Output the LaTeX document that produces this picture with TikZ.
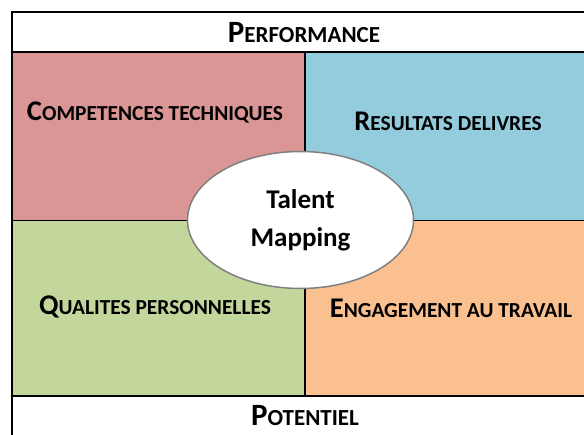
\documentclass[tikz,border=0pt]{standalone}
\usepackage{fontspec}
\setmainfont{Carlito}
\usetikzlibrary{shapes.geometric}
\definecolor{pinkq}{HTML}{D99694}
\definecolor{blueq}{HTML}{93CDDD}
\definecolor{greenq}{HTML}{C3D69B}
\definecolor{orangeq}{HTML}{FAC090}
\newcommand{\smc}[3]{#2{\fontsize{#1}{24}\selectfont #3}}

\begin{document}
\begin{tikzpicture}[x=1pt,y=-1pt]
\useasboundingbox (0,0) rectangle (584,435);
\clip (0,0) rectangle (584,435);

\tikzstyle{Label}=[font=\fontsize{28.5}{32}\selectfont\bfseries,inner sep=0pt]
\tikzstyle{Title}=[font=\fontsize{31}{34}\selectfont\bfseries,inner sep=0pt]

\fill[pinkq] (12,52) rectangle (305,221);
\fill[blueq] (305,52) rectangle (600,221);
\fill[greenq] (12,221) rectangle (305,396);
\fill[orangeq] (305,221) rectangle (600,396);

\draw[line width=2pt] (12,600) -- (12,12) -- (600,12);
\draw[line width=2pt] (12,52) -- (600,52);
\draw[line width=2pt] (12,396) -- (600,396);
\draw[line width=1pt] (12,221) -- (600,221);
\draw[line width=1.7pt] (305,52) -- (305,396);

\node[Title] (perf) at (304,33) {\smc{23}{P}{ERFORMANCE}};
\node[Title] (pot) at (305,416) {\smc{23}{P}{OTENTIEL}};

\node[Label] (comp) at (155,113) {\smc{21.4}{C}{OMPETENCES TECHNIQUES}};
\node[Label] (res) at (448,121) {\smc{21.4}{R}{ESULTATS DELIVRES}};
\node[Label] (qual) at (155,307) {\smc{21.4}{Q}{UALITES PERSONNELLES}};
\node[Label] (eng) at (451,308) {\smc{21.4}{E}{NGAGEMENT AU TRAVAIL}};

\node[ellipse,draw=gray,fill=white,line width=1.5pt,minimum width=226,minimum height=137,
  align=center,font=\fontsize{27}{38}\selectfont\bfseries] (tm) at (300.5,220) {Talent\\Mapping};

\end{tikzpicture}
\end{document}
